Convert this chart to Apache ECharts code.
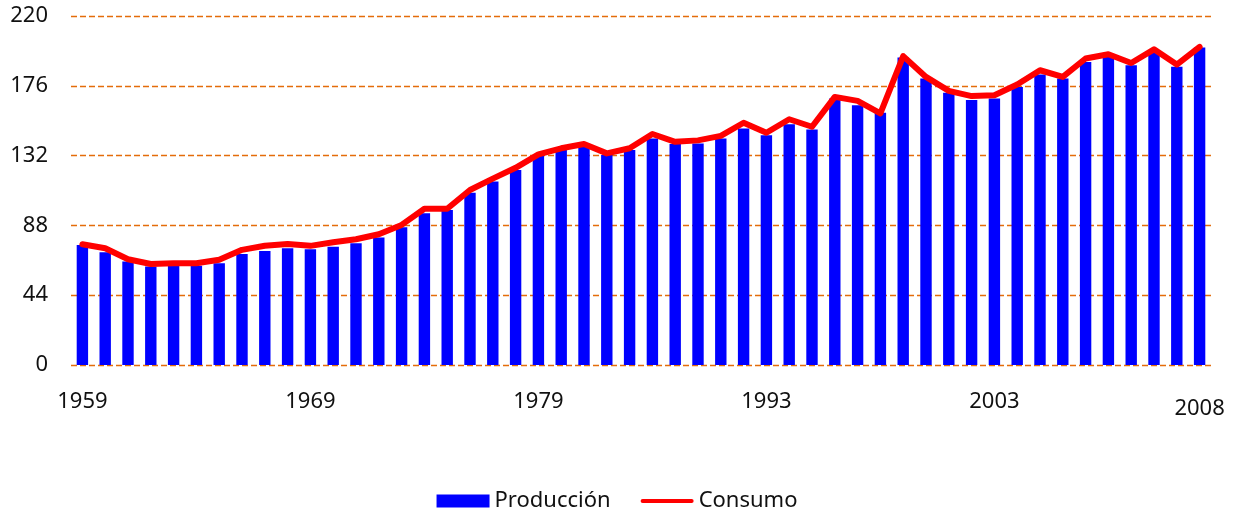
<!DOCTYPE html>
<html>
<head>
<meta charset="utf-8">
<script src="https://cdn.jsdelivr.net/npm/echarts@6/dist/echarts.min.js"></script>
<style>
  html, body { margin: 0; padding: 0; background: #fff; }
  #chart { width: 1234px; height: 515px; }
</style>
</head>
<body>
<div id="chart"></div>
<script>
// Años de la serie (una barra por año)
const years = [
  '1959','1960','1961','1962','1963','1964','1965','1966','1967','1968',
  '1969','1970','1971','1972','1973','1974','1975','1976','1977','1978',
  '1979','1980','1981','1982','1983','1984','1985','1986','1987','1988',
  '1989','1990','1991','1992','1993','1994','1995','1996','1997','1998',
  '1999','2000','2001','2002','2003','2004','2005','2006','2007','2008'
];

// Producción (barras)
const produccion = [
  75.7, 71.1, 65.2, 62.1, 62.5, 62.5, 64.2, 69.9, 71.9, 73.6,
  73.0, 74.6, 76.8, 80.3, 86.8, 95.7, 97.7, 108.6, 115.6, 122.9,
  131.7, 135.5, 138.0, 132.3, 135.5, 142.8, 139.3, 139.7, 142.8, 149.1,
  144.9, 151.7, 148.5, 168.0, 163.8, 159.0, 193.8, 180.6, 171.6, 167.0,
  168.0, 175.3, 183.1, 180.6, 191.0, 194.2, 189.0, 197.8, 188.0, 200.1
];

// Consumo (línea)
const consumo = [
  76.1, 73.6, 66.7, 63.7, 64.1, 64.1, 66.3, 72.6, 75.2, 76.3,
  75.1, 77.4, 79.3, 82.4, 88.3, 98.5, 98.5, 110.3, 117.5, 124.3,
  132.8, 136.6, 139.3, 133.4, 136.6, 145.6, 140.7, 141.6, 144.4, 152.7,
  146.4, 154.9, 150.2, 169.0, 166.5, 158.6, 194.7, 181.6, 172.8, 169.5,
  170.0, 176.8, 185.8, 181.6, 193.2, 195.9, 190.4, 199.0, 189.4, 200.5
];

// Rótulos del eje horizontal: posición de la barra -> texto mostrado
const xTickIndex = [0, 10, 20, 30, 40, 49];
const xTickText  = ['1959', '1969', '1979', '1993', '2003', '2008'];

// Escala vertical
const yMin = 0, yMax = 220, yStep = 44;

const FONT = '"Noto Sans", "Open Sans", sans-serif';
const FONT_SIZE = 22;
const lastIndex = xTickIndex[xTickIndex.length - 1];

// El último rótulo va algo más abajo que los demás
const categoryData = years.map((y, i) => (
  i === lastIndex
    ? { value: y, textStyle: { padding: [7, 0, 0, 0] } }
    : y
));

// Icono de leyenda para la línea: trazo rojo con extremos redondeados
const lineIcon = 'path://M2,0 L51,0 A2,2 0 0 1 51,4 L2,4 A2,2 0 0 1 2,0 Z';

const chart = echarts.init(document.getElementById('chart'), null, { renderer: 'canvas' });

chart.setOption({
  animation: false,
  backgroundColor: '#ffffff',
  textStyle: { fontFamily: FONT },
  grid: { left: 71, right: 23, top: 16, bottom: 150, containLabel: false },
  legend: {
    left: 'center',
    top: 485,
    itemWidth: 53,
    itemHeight: 13,
    itemGap: 30,
    textStyle: { fontFamily: FONT, fontSize: FONT_SIZE, color: '#111' },
    data: [
      { name: 'Producción', icon: 'rect' },
      { name: 'Consumo', icon: lineIcon, itemStyle: { color: '#FF0000' } }
    ]
  },
  xAxis: {
    type: 'category',
    data: categoryData,
    boundaryGap: true,
    axisLine: { show: false },
    axisTick: { show: false },
    splitLine: { show: false },
    axisLabel: {
      interval: (idx) => xTickIndex.indexOf(idx) !== -1,
      formatter: (v, idx) => {
        const k = xTickIndex.indexOf(idx);
        return k === -1 ? '' : xTickText[k];
      },
      margin: 26,
      fontFamily: FONT,
      fontSize: FONT_SIZE,
      color: '#111'
    }
  },
  yAxis: {
    type: 'value',
    min: yMin,
    max: yMax,
    interval: yStep,
    axisLine: { show: false },
    axisTick: { show: false },
    axisLabel: {
      margin: 23,
      fontFamily: FONT,
      fontSize: FONT_SIZE,
      color: '#111'
    },
    splitLine: {
      show: true,
      lineStyle: { color: '#E46C0A', width: 1.3, type: [6, 3] }
    }
  },
  series: [
    {
      name: 'Producción',
      type: 'bar',
      data: produccion,
      barWidth: '50%',
      itemStyle: { color: '#0000FF' }
    },
    {
      name: 'Consumo',
      type: 'line',
      data: consumo,
      symbol: 'none',
      smooth: false,
      z: 5,
      lineStyle: { color: '#FF0000', width: 6, cap: 'round', join: 'round' },
      itemStyle: { color: '#FF0000' }
    }
  ]
});
</script>
</body>
</html>
